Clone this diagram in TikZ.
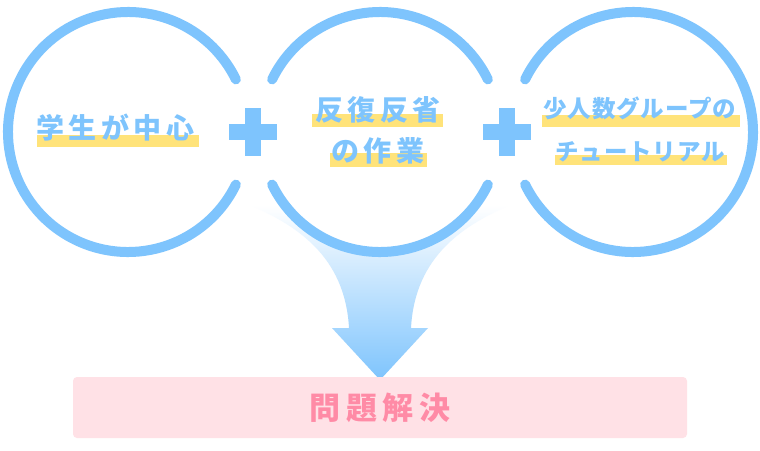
\documentclass[tikz,border=0pt]{standalone}
\usepackage{fontspec}
\newfontfamily\cjkM{Noto Sans CJK JP}[LetterSpace=16]
\newfontfamily\cjkR{Noto Sans CJK JP}[LetterSpace=4]
\newfontfamily\cjkB{Noto Sans CJK JP}[LetterSpace=19]
\definecolor{cblue}{RGB}{126,196,253}
\definecolor{cyel}{RGB}{255,227,122}
\definecolor{cpinkbg}{RGB}{255,225,230}
\definecolor{cpink}{RGB}{255,139,166}
\begin{document}
\begin{tikzpicture}[x=1pt,y=-1pt,
  ring/.style={draw=cblue,line width=10pt,line cap=round},
  band/.style={fill=cyel},
  plusbar/.style={fill=cblue},
  lblM/.style={text=cblue,inner sep=0pt,anchor=west,font=\cjkM\bfseries\fontsize{28}{32}\selectfont},
  lblR/.style={text=cblue,inner sep=0pt,anchor=west,font=\cjkR\bfseries\fontsize{23.5}{27}\selectfont},
  goalbox/.style={fill=cpinkbg,rounded corners=4pt,minimum width=614pt,minimum height=61pt,inner sep=0pt,text=cpink,font=\cjkB\bfseries\fontsize{31}{35}\selectfont}]
\useasboundingbox (0,0) rectangle (760,450);
\fill[white] (0,0) rectangle (760,450);
\coordinate (c1) at (128,132);
\coordinate (c2) at (380,132);
\coordinate (c3) at (633,132);
% funnel arrow
\shade[top color=white, bottom color=cblue] (250,205) .. controls (295,225) and (345,255) .. (349,328) -- (332,328) -- (380,380) -- (428,328) -- (411,328) .. controls (415,255) and (465,225) .. (510,205) -- cycle;
% middle circle interior
\fill[white] (c2) circle[radius=120];
% rings
\draw[ring] (c1) ++(26:120) arc[start angle=26,end angle=334,radius=120];
\draw[ring] (c2) ++(26:120) arc[start angle=26,end angle=154,radius=120];
\draw[ring] (c2) ++(206:120) arc[start angle=206,end angle=334,radius=120];
\draw[ring] (c3) ++(206:120) arc[start angle=206,end angle=514,radius=120];
% plus signs
\fill[plusbar] (229,124) rectangle (277,140);
\fill[plusbar] (245,108) rectangle (261,156);
\fill[plusbar] (483,124) rectangle (531,140);
\fill[plusbar] (499,108) rectangle (515,156);
% highlight bands
\fill[band] (37,135) rectangle (199,147);
\fill[band] (312,114) rectangle (443,127);
\fill[band] (330,153) rectangle (427,167);
\fill[band] (542,115) rectangle (740,127);
\fill[band] (555,155) rectangle (727,165);
% texts
\node[lblM] (t1) at (36,128) {学生が中心};
\node[lblM] (t2a) at (315,110) {反復反省};
\node[lblM] (t2b) at (331,151) {の作業};
\node[lblR] (t3a) at (543,108) {少人数グループの};
\node[lblR] (t3b) at (555,152) {チュートリアル};
% goal box
\node[goalbox] (goal) at (380,407.5) {問題解決};
\end{tikzpicture}
\end{document}
